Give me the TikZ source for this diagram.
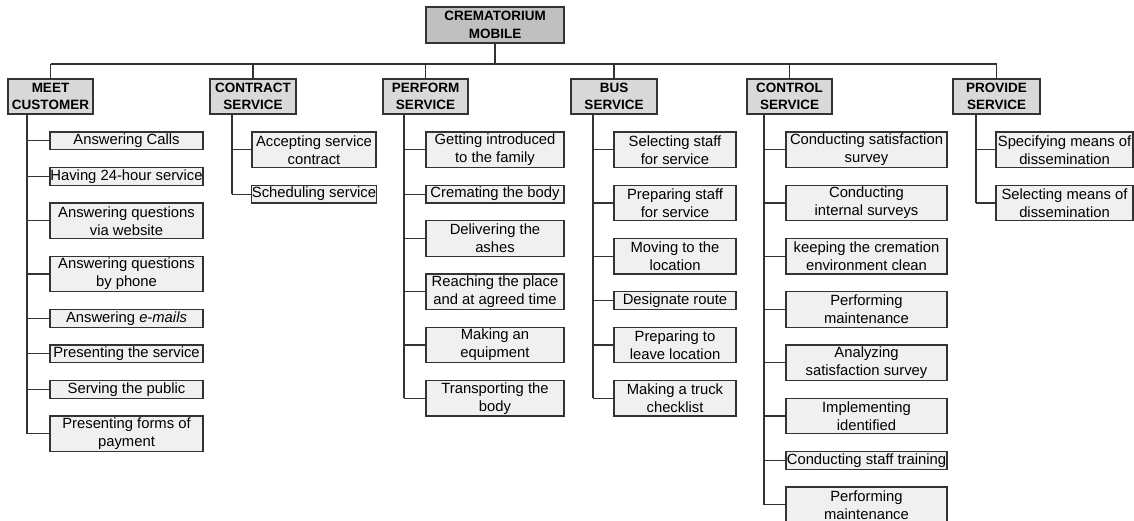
\documentclass[tikz,border=0pt]{standalone}
\usepackage{fontspec}
\setmainfont{Liberation Sans}
\definecolor{rootfill}{HTML}{C0C0C0}
\definecolor{headfill}{HTML}{D9D9D9}
\definecolor{leaffill}{HTML}{F0F0F0}
\definecolor{edge}{HTML}{333333}
\tikzset{
  basebox/.style={draw=edge, line width=1.2pt, inner sep=0pt, align=center},
  rootbox/.style={basebox, fill=rootfill, font=\fontsize{13.5}{17.5}\selectfont\bfseries},
  headbox/.style={basebox, fill=headfill, font=\fontsize{13.5}{17}\selectfont\bfseries, minimum width=86, minimum height=35},
  leafbox/.style={basebox, fill=leaffill, font=\fontsize{14.8}{18}\selectfont},
  conn/.style={draw=edge, line width=1.2pt}
}
\newcommand{\leaf}[6]{\node[leafbox, minimum width=#3, minimum height={17.75*(#5-#4)}] (#1) at ({#2+#3/2},{132+17.75*(#4+#5)/2}) {#6};}
\begin{document}
\begin{tikzpicture}[x=1pt,y=-1pt]
\useasboundingbox (0,0) rectangle (1134,521);
\clip (0,0) rectangle (1134,521);
% root
\node[rootbox, minimum width=138, minimum height=36] (root) at (495,25) {CREMATORIUM\\MOBILE};
% level 1
\node[headbox, minimum width=85] (meet) at (50.5,96.5) {MEET\\CUSTOMER};
\node[headbox] (contract) at (253,96.5) {CONTRACT\\SERVICE};
\node[headbox, minimum width=85] (perform) at (425.5,96.5) {PERFORM\\SERVICE};
\node[headbox] (bus) at (614,96.5) {BUS\\SERVICE};
\node[headbox, minimum width=85] (control) at (789.5,96.5) {CONTROL\\SERVICE};
\node[headbox, minimum width=87] (provide) at (996.5,96.5) {PROVIDE\\SERVICE};
\coordinate (busy) at (0,64);
\draw[conn] (root.south) -- (root.south |- busy);
\draw[conn] (meet.north |- busy) -- (provide.north |- busy);
\foreach \h in {meet,contract,perform,bus,control,provide}
  \draw[conn] (\h.north |- busy) -- (\h.north);
% leaves: MEET CUSTOMER
\leaf{m1}{50}{153}{0}{1}{Answering Calls}
\leaf{m2}{50}{153}{2}{3}{Having 24-hour service}
\leaf{m3}{50}{153}{4}{6}{Answering questions\\via website}
\leaf{m4}{50}{153}{7}{9}{Answering questions\\by phone}
\leaf{m5}{50}{153}{10}{11}{Answering \textit{e-mails}}
\leaf{m6}{50}{153}{12}{13}{Presenting the service}
\leaf{m7}{50}{153}{14}{15}{Serving the public}
\leaf{m8}{50}{153}{16}{18}{Presenting forms of\\payment}
% CONTRACT SERVICE
\leaf{c1}{252}{124}{0}{2}{Accepting service\\contract}
\leaf{c2}{252}{124}{3}{4}{Scheduling service}
% PERFORM SERVICE
\leaf{p1}{426}{138}{0}{2}{Getting introduced\\to the family}
\leaf{p2}{426}{138}{3}{4}{Cremating the body}
\leaf{p3}{426}{138}{5}{7}{Delivering the\\ashes}
\leaf{p4}{426}{138}{8}{10}{Reaching the place\\and at agreed time}
\leaf{p5}{426}{138}{11}{13}{Making an\\equipment}
\leaf{p6}{426}{138}{14}{16}{Transporting the\\body}
% BUS SERVICE
\leaf{b1}{614}{122}{0}{2}{Selecting staff\\for service}
\leaf{b2}{614}{122}{3}{5}{Preparing staff\\for service}
\leaf{b3}{614}{122}{6}{8}{Moving to the\\location}
\leaf{b4}{614}{122}{9}{10}{Designate route}
\leaf{b5}{614}{122}{11}{13}{Preparing to\\leave location}
\leaf{b6}{614}{122}{14}{16}{Making a truck\\checklist}
% CONTROL SERVICE
\leaf{k1}{786}{161}{0}{2}{Conducting satisfaction\\survey}
\leaf{k2}{786}{161}{3}{5}{Conducting\\internal surveys}
\leaf{k3}{786}{161}{6}{8}{keeping the cremation\\environment clean}
\leaf{k4}{786}{161}{9}{11}{Performing\\maintenance}
\leaf{k5}{786}{161}{12}{14}{Analyzing\\satisfaction survey}
\leaf{k6}{786}{161}{15}{17}{Implementing\\identified}
\leaf{k7}{786}{161}{18}{19}{Conducting staff training}
\leaf{k8}{786}{161}{20}{22}{Performing\\maintenance}
% PROVIDE SERVICE
\leaf{v1}{996}{137}{0}{2}{Specifying means of\\dissemination}
\leaf{v2}{996}{137}{3}{5}{Selecting means of\\dissemination}
% branch coordinates
\coordinate (mx) at (27,0);
\coordinate (cx) at (232,0);
\coordinate (px) at (404,0);
\coordinate (bx) at (593,0);
\coordinate (kx) at (764,0);
\coordinate (vx) at (976,0);
% branches
\draw[conn] (meet.south -| mx) -- (mx |- m8.west);
\foreach \n in {m1,m2,m3,m4,m5,m6,m7,m8} \draw[conn] (mx |- \n.west) -- (\n.west);
\draw[conn] (contract.south -| cx) -- (cx |- c2.west);
\foreach \n in {c1,c2} \draw[conn] (cx |- \n.west) -- (\n.west);
\draw[conn] (perform.south -| px) -- (px |- p6.west);
\foreach \n in {p1,p2,p3,p4,p5,p6} \draw[conn] (px |- \n.west) -- (\n.west);
\draw[conn] (bus.south -| bx) -- (bx |- b6.west);
\foreach \n in {b1,b2,b3,b4,b5,b6} \draw[conn] (bx |- \n.west) -- (\n.west);
\draw[conn] (control.south -| kx) -- (kx |- k8.west);
\foreach \n in {k1,k2,k3,k4,k5,k6,k7,k8} \draw[conn] (kx |- \n.west) -- (\n.west);
\draw[conn] (provide.south -| vx) -- (vx |- v2.west);
\foreach \n in {v1,v2} \draw[conn] (vx |- \n.west) -- (\n.west);
\end{tikzpicture}
\end{document}
